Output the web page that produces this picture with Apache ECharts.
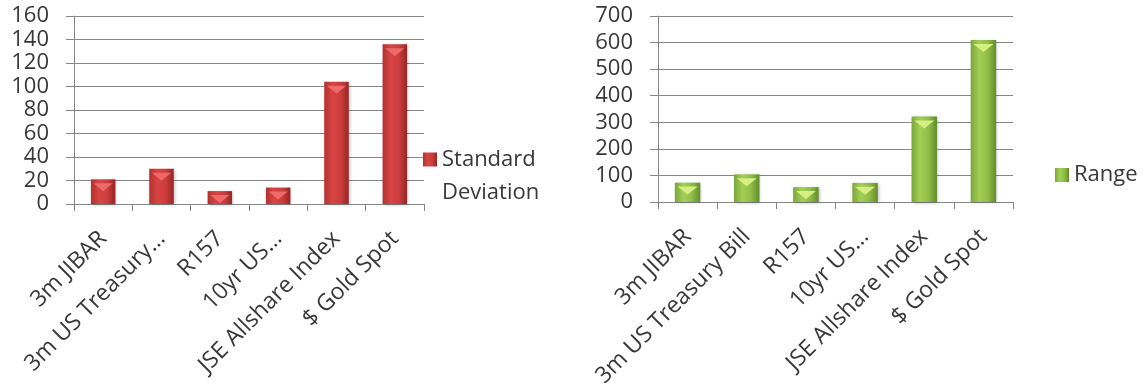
<!DOCTYPE html>
<html>
<head>
<meta charset="utf-8">
<script src="https://cdn.jsdelivr.net/npm/echarts@6/dist/echarts.min.js"></script>
<style>
  html, body { margin: 0; padding: 0; background: #ffffff; }
  #chart { width: 1146px; height: 387px; }
</style>
</head>
<body>
<div id="chart"></div>
<script>
// Tick labels for each panel (the narrower left panel shows shortened names)
const leftLabels = ['3m JIBAR', '3m US Treasury…', 'R157', '10yr US…', 'JSE Allshare Index', '$ Gold Spot'];
const rightLabels = ['3m JIBAR', '3m US Treasury Bill', 'R157', '10yr US…', 'JSE Allshare Index', '$ Gold Spot'];

// Series values
const stdDev = [21, 30, 11, 14, 104, 136];
const range = [73, 104, 56, 72, 322, 610];

const FONT = '"Open Sans", "Liberation Sans", sans-serif';
const TEXT = '#383838';
const GRID = '#868686';

function barFill(stops) {
  return new echarts.graphic.LinearGradient(0, 0, 1, 0, stops.map((c, i) => ({ offset: i / (stops.length - 1), color: c })));
}
const redFill = barFill(['#b23131', '#d84444', '#cc3d3d', '#952626']);
const greenFill = barFill(['#7ba63a', '#a2cf54', '#90bd47', '#628c2b']);

function catAxis(gridIndex, labels) {
  return {
    type: 'category', gridIndex, data: labels,
    axisLine: { lineStyle: { color: GRID, width: 1 } },
    axisTick: { show: true, length: 7, alignWithLabel: false, lineStyle: { color: GRID } },
    axisLabel: { interval: 0, rotate: 45, margin: 31, color: TEXT, fontSize: 23, fontFamily: FONT }
  };
}
function valAxis(gridIndex, max, step) {
  return {
    type: 'value', gridIndex, min: 0, max, interval: step,
    axisLine: { show: true, lineStyle: { color: GRID, width: 1 } },
    axisTick: { show: true, length: 8, lineStyle: { color: GRID } },
    splitLine: { lineStyle: { color: GRID, width: 1 } },
    axisLabel: { margin: 25, color: TEXT, fontSize: 22, fontFamily: FONT }
  };
}

const chart = echarts.init(document.getElementById('chart'), null, { renderer: 'canvas' });
chart.setOption({
  animation: false,
  backgroundColor: '#ffffff',
  grid: [
    { left: 74, top: 16, width: 350, height: 188, outerBoundsMode: 'none' },
    { left: 658, top: 16, width: 355, height: 186, outerBoundsMode: 'none' }
  ],
  xAxis: [catAxis(0, leftLabels), catAxis(1, rightLabels)],
  yAxis: [valAxis(0, 160, 20), valAxis(1, 700, 100)],
  legend: [
    {
      data: ['Standard Deviation'], left: 423, top: 110, padding: 0,
      itemWidth: 14, itemHeight: 14, icon: 'rect',
      // empty first line keeps the swatch level with "Standard"
      formatter: () => '\nStandard\nDeviation',
      textStyle: { color: TEXT, fontSize: 22, fontFamily: FONT, lineHeight: 33 }
    },
    {
      data: ['Range'], left: 1055, top: 160, padding: 0,
      itemWidth: 14, itemHeight: 14, icon: 'rect',
      textStyle: { color: TEXT, fontSize: 22, fontFamily: FONT, lineHeight: 30 }
    }
  ],
  series: [
    {
      name: 'Standard Deviation', type: 'bar', xAxisIndex: 0, yAxisIndex: 0,
      data: stdDev, barWidth: '42%',
      itemStyle: { color: redFill, shadowColor: 'rgba(0,0,0,0.25)', shadowBlur: 3, shadowOffsetX: 1, shadowOffsetY: 1 }
    },
    {
      name: 'capRed', type: 'pictorialBar', xAxisIndex: 0, yAxisIndex: 0,
      data: stdDev, symbol: 'triangle', symbolRotate: 180, symbolPosition: 'end',
      symbolSize: [19, 8], symbolOffset: [0, 4], barWidth: '42%', z: 3,
      itemStyle: { color: '#ee6a6a' }, silent: true
    },
    {
      name: 'Range', type: 'bar', xAxisIndex: 1, yAxisIndex: 1,
      data: range, barWidth: '43%',
      itemStyle: { color: greenFill, shadowColor: 'rgba(0,0,0,0.25)', shadowBlur: 3, shadowOffsetX: 1, shadowOffsetY: 1 }
    },
    {
      name: 'capGreen', type: 'pictorialBar', xAxisIndex: 1, yAxisIndex: 1,
      data: range, symbol: 'triangle', symbolRotate: 180, symbolPosition: 'end',
      symbolSize: [20, 8], symbolOffset: [0, 4], barWidth: '43%', z: 3,
      itemStyle: { color: '#d6ef84' }, silent: true
    }
  ]
});
</script>
</body>
</html>
